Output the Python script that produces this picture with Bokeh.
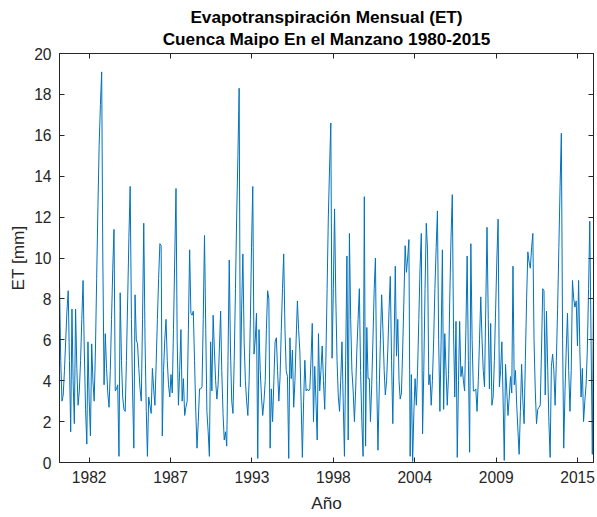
import pandas as pd
from bokeh.plotting import figure
from bokeh.models import Range1d, FixedTicker, LinearAxis, Title, CustomLabelingPolicy
from bokeh.embed import file_html
from bokeh.resources import INLINE

# ---------------- data ----------------
start_month = "1980-04-01"
et_mm = [
    8.8, 5.0, 3.0, 3.3, 4.5, 6.0, 7.4, 8.4, 5.0, 1.5, 7.5, 4.0,
    1.9, 7.5, 4.6, 2.8, 3.5, 5.0, 7.0, 8.9, 5.5, 2.6, 0.9, 5.9,
    3.0, 1.3, 5.8, 4.0, 3.0, 5.5, 9.0, 12.5, 15.5, 17.5, 19.1, 10.0,
    3.8, 6.3, 4.6, 3.4, 2.7, 4.5, 7.0, 9.5, 11.4, 3.5, 3.6, 3.8,
    0.3, 8.3, 5.0, 3.2, 2.6, 2.5, 5.0, 8.0, 11.0, 13.5, 7.0, 3.5,
    0.7, 8.2, 6.0, 5.8, 4.6, 3.6, 3.0, 7.0, 11.7, 6.0, 2.5, 0.3,
    3.2, 2.8, 2.4, 4.6, 3.6, 2.8, 4.8, 7.0, 9.0, 10.7, 10.6, 1.3,
    4.5, 6.0, 7.0, 5.0, 3.8, 3.2, 4.3, 3.4, 6.5, 10.0, 13.4, 6.0,
    2.8, 4.5, 6.5, 3.0, 4.1, 2.3, 2.7, 3.0, 6.5, 10.4, 7.3, 7.2,
    7.4, 5.0, 2.5, 0.7, 2.0, 3.6, 3.6, 3.7, 7.0, 11.1, 6.5, 2.5,
    1.5, 0.3, 5.9, 3.5, 7.2, 5.5, 4.0, 3.1, 3.8, 5.5, 7.4, 4.5,
    2.4, 1.1, 1.5, 0.8, 5.0, 9.9, 5.5, 3.0, 2.4, 5.0, 8.5, 12.0,
    15.0, 18.3, 3.7, 7.5, 10.2, 5.9, 4.0, 3.0, 2.3, 4.0, 7.0, 10.5,
    13.5, 5.3, 6.0, 7.3, 0.2, 6.5, 4.5, 3.2, 2.3, 3.0, 4.0, 6.5,
    8.4, 8.0, 0.7, 3.6, 2.0, 4.0, 5.9, 6.1, 4.5, 3.0, 4.2, 6.4,
    8.5, 10.2, 6.5, 4.5, 4.2, 0.2, 6.1, 4.1, 5.5, 2.7, 4.0, 6.0,
    7.9, 6.5, 5.4, 3.0, 0.25, 3.0, 5.0, 3.5, 3.6, 3.5, 3.6, 5.0,
    6.8, 2.0, 4.7, 3.0, 1.1, 6.3, 3.5, 4.5, 5.7, 4.0, 2.6, 5.0,
    8.5, 12.0, 14.5, 16.6, 5.1, 8.5, 12.4, 8.0, 5.0, 3.2, 2.5, 4.0,
    5.9, 3.0, 0.3, 5.0, 10.1, 1.1, 11.2, 7.0, 4.5, 3.5, 2.0, 3.5,
    5.5, 7.0, 8.5, 4.5, 2.0, 0.3, 13.0, 0.8, 6.6, 4.1, 4.1, 2.0,
    3.8, 6.0, 8.5, 10.0, 4.0, 0.6, 3.5, 6.0, 8.2, 6.5, 4.5, 3.3,
    4.0, 5.5, 7.5, 9.1, 5.0, 1.9, 5.5, 9.6, 5.2, 7.0, 4.0, 3.1,
    3.4, 5.5, 8.0, 10.6, 9.3, 10.0, 10.9, 0.3, 4.3, 0.05, 2.5, 4.1,
    2.8, 4.5, 7.0, 9.5, 11.2, 1.4, 4.5, 8.5, 11.7, 10.4, 3.8, 4.3,
    2.8, 4.0, 6.0, 8.5, 10.5, 12.3, 6.0, 2.5, 6.0, 10.4, 2.6, 6.3,
    4.5, 2.8, 4.3, 8.0, 11.0, 13.1, 6.5, 3.2, 6.9, 0.25, 4.0, 6.9,
    4.2, 4.7, 4.0, 3.5, 6.5, 10.1, 5.0, 0.5, 10.7, 6.0, 3.5, 3.5,
    3.6, 2.5, 4.0, 6.0, 8.1, 6.0, 4.5, 3.7, 7.5, 11.5, 7.0, 3.6,
    6.8, 2.8, 3.2, 5.0, 7.5, 10.0, 11.9, 3.7, 4.5, 5.9, 3.0, 0.1,
    4.8, 3.5, 2.3, 3.2, 4.2, 3.4, 9.6, 3.8, 4.5, 2.8, 1.5, 0.4,
    2.5, 4.8, 3.0, 1.9, 5.0, 8.0, 10.3, 9.8, 9.5, 10.5, 11.2, 6.0,
    3.5, 1.9, 2.6, 2.7, 2.8, 5.5, 8.5, 8.4, 3.3, 7.4, 4.5, 2.0,
    0.25, 4.7, 5.3, 4.5, 2.8, 5.0, 7.5, 10.5, 13.5, 16.1, 6.0, 0.7,
    3.5, 5.5, 7.3, 4.5, 2.5, 4.5, 8.9, 8.0, 7.6, 7.9, 5.7, 8.9,
    5.5, 3.2, 4.6, 2.0, 3.0, 3.8, 5.5, 8.5, 11.8, 6.0, 0.4, 8.3,
]
tick_dates = ["1982-03-30", "1987-09-20", "1993-03-12", "1998-09-02",
              "2004-02-23", "2009-08-15", "2015-02-04"]
tick_labels = ["1982", "1987", "1993", "1998", "2004", "2009", "2015"]
y_ticks = [0, 2, 4, 6, 8, 10, 12, 14, 16, 18, 20]

title_line1 = "Evapotranspiración Mensual (ET)"
title_line2 = "Cuenca Maipo En el Manzano 1980-2015"
x_label = "Año"
y_label = "ET [mm]"

# ---------------- build ----------------
epoch = pd.Timestamp("1980-01-01")
dates = pd.date_range(start_month, periods=len(et_mm), freq="MS")
x = [int((d - epoch).days) for d in dates]
xt = [int((pd.Timestamp(t) - epoch).days) for t in tick_dates]

FONT = "Liberation Sans"
AX = "#262626"

p = figure(width=597, height=517, output_backend="svg", toolbar_location=None,
           title=None,
           x_range=Range1d(x[0], x[-1]), y_range=Range1d(0, 20),
           min_border_left=59, min_border_right=3,
           min_border_top=53, min_border_bottom=55)

p.background_fill_color = "white"
p.border_fill_color = "white"
p.outline_line_color = AX
p.outline_line_width = 1
p.xgrid.visible = False
p.ygrid.visible = False

p.line(x, et_mm, line_color="#0072BD", line_width=1)


def style_axis(ax, ticks):
    ax.ticker = FixedTicker(ticks=ticks)
    ax.major_tick_in = 5
    ax.major_tick_out = 0
    ax.minor_tick_line_color = None
    ax.axis_line_color = AX
    ax.major_tick_line_color = AX
    ax.major_label_text_color = AX
    ax.major_label_text_font = FONT
    ax.major_label_text_font_size = "15.6px"
    ax.axis_label_text_font = FONT
    ax.axis_label_text_font_size = "17.2px"
    ax.axis_label_text_font_style = "normal"
    ax.axis_label_text_color = AX


xa = p.xaxis[0]
style_axis(xa, xt)
xa.major_label_overrides = dict(zip(xt, tick_labels))
xa.major_label_standoff = 8
xa.axis_label = x_label
xa.axis_label_standoff = 7

ya = p.yaxis[0]
style_axis(ya, y_ticks)
ya.major_label_standoff = 8
ya.axis_label = y_label
ya.axis_label_standoff = 3

# box: tick marks (no labels) on top and right too
ra = LinearAxis()
style_axis(ra, y_ticks)
ra.major_label_text_font_size = "1px"
ra.major_label_standoff = 0
ra.major_label_policy = CustomLabelingPolicy(code="for (const i of indices) { indices.unset(i) } return indices")
p.add_layout(ra, "right")

ta = LinearAxis()
style_axis(ta, xt)
ta.major_label_text_font_size = "1px"
ta.major_label_standoff = 0
ta.major_label_policy = CustomLabelingPolicy(code="for (const i of indices) { indices.unset(i) } return indices")
p.add_layout(ta, "above")

t2 = Title(text=title_line2, align="center", text_font=FONT, text_font_size="17.2px",
           text_font_style="bold", text_color="black", standoff=1)
p.add_layout(t2, "above")
t1 = Title(text=title_line1, align="center", text_font=FONT, text_font_size="17.2px",
           text_font_style="bold", text_color="black", standoff=0)
p.add_layout(t1, "above")

open("out.html", "w").write(file_html(p, INLINE))
